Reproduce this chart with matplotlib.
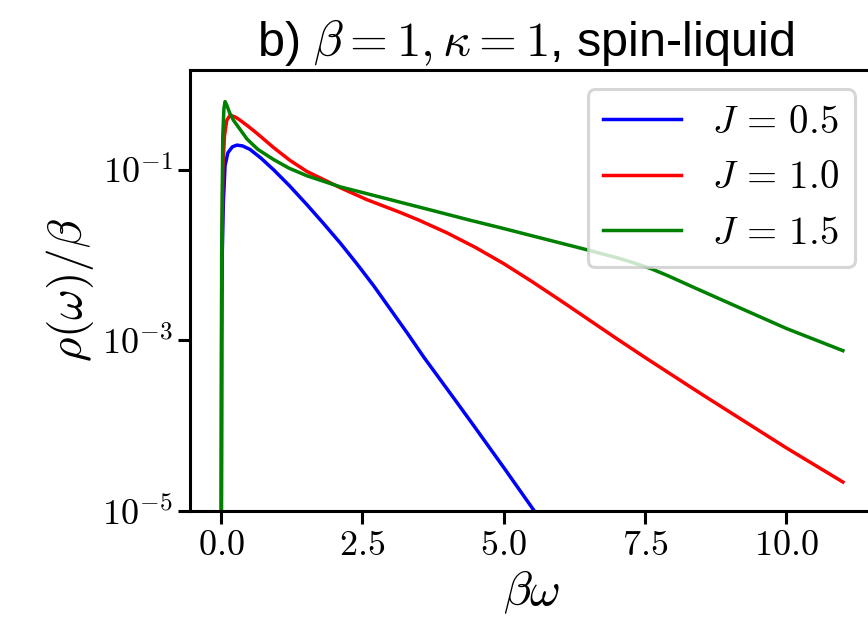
import matplotlib
matplotlib.use("Agg")
import matplotlib.pyplot as plt
from matplotlib.ticker import FuncFormatter, NullLocator
import numpy as np

plt.rcParams['mathtext.fontset'] = 'cm'
plt.rcParams['font.family'] = ['Liberation Sans', 'DejaVu Sans']

# spectral function rho(omega)/beta, stored as log10 values
# J = 0.5
bw_05 = [0.0, 0.01, 0.02, 0.04, 0.07, 0.12, 0.2, 0.28, 0.38, 0.51, 0.7, 0.93,
         1.2, 1.52, 1.8, 2.11, 2.4, 2.7, 3.0, 3.3, 3.59, 4.12, 4.47, 5.0, 5.51, 5.7]
logrho_05 = [-7.0, -3.0, -2.0, -1.39, -0.95, -0.8, -0.73, -0.71, -0.72, -0.76, -0.86, -1.0,
             -1.18, -1.41, -1.62, -1.86, -2.1, -2.36, -2.64, -2.92, -3.2, -3.68, -4.0, -4.49, -4.97, -5.15]

# J = 1.0
bw_10 = [0.0, 0.01, 0.03, 0.06, 0.1, 0.16, 0.25, 0.34, 0.48, 0.63, 0.93, 1.22, 1.52,
         2.11, 2.58, 3.17, 3.5, 4.0, 4.5, 5.0, 5.5, 6.0, 6.5, 7.0, 7.5, 8.0, 8.5, 9.0, 9.5, 10.0, 10.5, 11.0]
logrho_10 = [-7.0, -2.5, -1.0, -0.6, -0.42, -0.36, -0.38, -0.42, -0.49, -0.57, -0.74, -0.89, -1.02,
             -1.21, -1.35, -1.50, -1.59, -1.74, -1.91, -2.10, -2.31, -2.53, -2.755, -2.98, -3.20,
             -3.415, -3.63, -3.84, -4.05, -4.26, -4.46, -4.66]

# J = 1.5
bw_15 = [0.0, 0.01, 0.03, 0.05, 0.07, 0.1, 0.15, 0.22, 0.34, 0.46, 0.65, 0.93, 1.2, 1.52,
         2.11, 2.76, 3.17, 3.76, 4.4, 4.95, 5.6, 6.37, 7.0, 7.3, 7.61, 7.9, 8.3, 9.08, 10.0, 11.0]
logrho_15 = [-7.0, -2.0, -0.6, -0.28, -0.2, -0.24, -0.33, -0.42, -0.53, -0.64, -0.76, -0.88, -0.98, -1.07,
             -1.2, -1.31, -1.38, -1.48, -1.59, -1.68, -1.79, -1.92, -2.03, -2.09, -2.16, -2.24, -2.36,
             -2.59, -2.86, -3.12]

labels = [r'$J\,=\,0.5$', r'$J\,=\,1.0$', r'$J\,=\,1.5$']
colors = ['blue', 'red', 'green']

fig = plt.figure(figsize=(8.68, 6.33), dpi=100)
ax = fig.add_axes([0.2189, 0.1927, 0.788, 0.6967])

series = [(bw_05, logrho_05), (bw_10, logrho_10), (bw_15, logrho_15)]
for (x, ly), lab, c in zip(series, labels, colors):
    ax.plot(x, 10.0 ** np.array(ly), color=c, lw=2.5, label=lab)

ax.set_yscale('log')
ax.set_ylim(1e-5, 1.48)
ax.set_yticks([1e-5, 1e-3, 1e-1])
ax.yaxis.set_minor_locator(NullLocator())
ax.yaxis.set_major_formatter(FuncFormatter(lambda v, p: r'$10^{%d}$' % round(np.log10(v))))
ax.set_xticks([0.0, 2.5, 5.0, 7.5, 10.0])
ax.xaxis.set_major_formatter(FuncFormatter(lambda v, p: r'$%.1f$' % v))

ax.tick_params(labelsize=26, length=9, width=2.2)
for s in ax.spines.values():
    s.set_linewidth(2.2)

ax.set_xlabel(r'$\beta\omega$', fontsize=34)
ax.set_ylabel(r'$\rho(\omega)/\beta$', fontsize=34)
ax.set_title(r'b) $\beta=1,\kappa=1$, spin-liquid', fontsize=35, x=0.49, pad=10)

leg = ax.legend(loc='upper right', fontsize=28)
leg.get_frame().set_linewidth(2.2)

fig.savefig('out.png', dpi=100)
